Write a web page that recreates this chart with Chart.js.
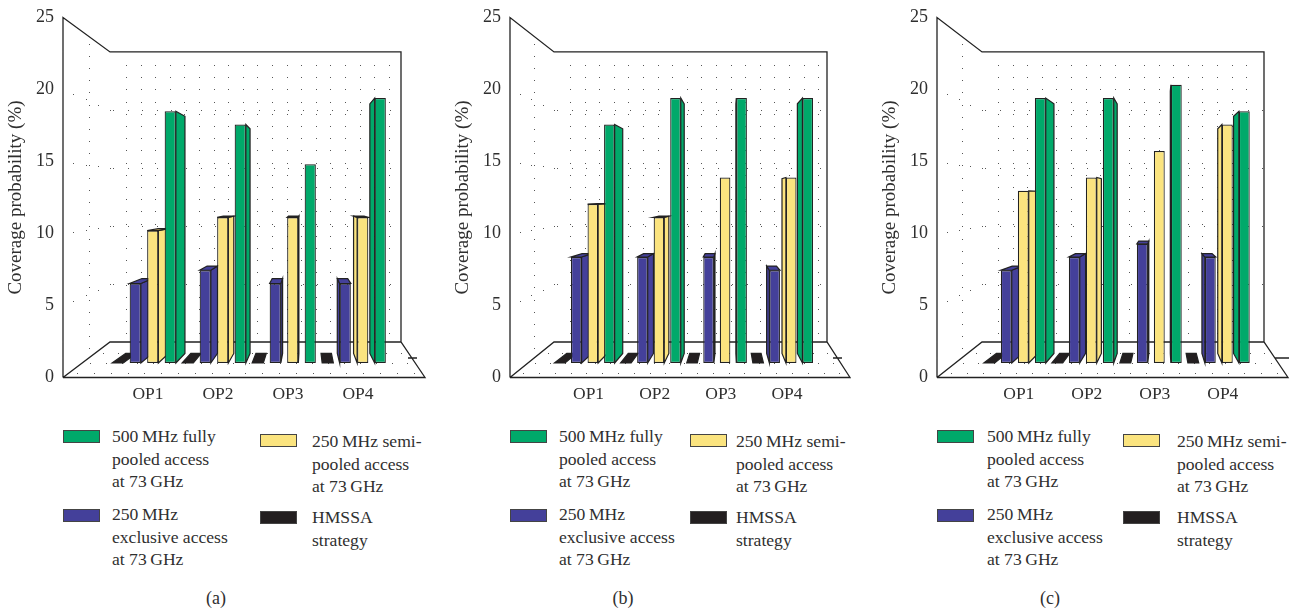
<!DOCTYPE html>
<html>
<head>
<meta charset="utf-8">
<title>Coverage probability</title>
<script src="https://cdn.jsdelivr.net/npm/chart.js@4/dist/chart.umd.min.js"></script>
<style>
  html, body { margin: 0; padding: 0; background: #fff; }
  body { position: relative; width: 1299px; height: 613px; overflow: hidden; font-family: "Liberation Serif", serif; color: #2f2f2f; }
  canvas { position: absolute; top: 0; }
  .swatch { position: absolute; box-sizing: border-box; width: 37px; height: 13px; border: 1.5px solid #444; }
  .legendText { position: absolute; font-size: 17.6px; line-height: 22.5px; white-space: pre; }
  .caption { position: absolute; top: 588px; font-size: 18px; line-height: 20px; transform: translateX(-50%); }
</style>
</head>
<body>
<script>
const categories = ["OP1", "OP2", "OP3", "OP4"];
const yTicks = [0, 5, 10, 15, 20, 25];

const hmssaA = [0, 0, 0, 0];
const exclusiveA = [6, 7, 6, 6];
const semiA = [10, 11, 11, 11];
const fullA = [19, 18, 15, 20];

const hmssaB = [0, 0, 0, 0];
const exclusiveB = [8, 8, 8, 7];
const semiB = [12, 11, 14, 14];
const fullB = [18, 20, 20, 20];

const hmssaC = [0, 0, 0, 0];
const exclusiveC = [7, 8, 9, 8];
const semiC = [13, 14, 16, 18];
const fullC = [20, 20, 21, 19];

const NAVY = "#44409a", YELLOW = "#fbe47f", GREEN = "#00a96a", BLACK = "#231f20";
const OLIVE = "#c4ab5a";
const LINE = "#222";
const TEXT = "#2f2f2f";

const seriesNames = [
  "HMSSA\nstrategy",
  "250\u2009MHz\nexclusive access\nat 73\u2009GHz",
  "250\u2009MHz semi-\npooled access\nat 73\u2009GHz",
  "500\u2009MHz fully\npooled access\nat 73\u2009GHz"
];
const seriesColors = [BLACK, NAVY, YELLOW, GREEN];

// frame of each panel, page pixels
const panels = [
  { tag: "(a)", frontL: 63, frontR: 425, backL: 110, backR: 401, catL: 109, catR: 389, vpX: 306, capX: 216,
    swatchR: 260, textL: 112, textR: 312, tick: [408, 417], data: [hmssaA, exclusiveA, semiA, fullA] },
  { tag: "(b)", frontL: 510, frontR: 850, backL: 554, backR: 827, catL: 551.5, catR: 816, vpX: 730, capX: 623,
    swatchR: 690, textL: 559, textR: 736, tick: [833, 842], data: [hmssaB, exclusiveB, semiB, fullB] },
  { tag: "(c)", frontL: 937, frontR: 1288, backL: 982, backR: 1264, catL: 980.8, catR: 1252.8, vpX: 1163, capX: 1050,
    swatchR: 1123, textL: 987, textR: 1177, tick: [1275, 1289], data: [hmssaC, exclusiveC, semiC, fullC] }
];

const VP_Y = 198;
const DEPTH_X = 0.07, DEPTH_Y = 0.058;

function poly(ctx, pts, fill) {
  ctx.beginPath();
  pts.forEach((p, i) => i ? ctx.lineTo(p[0], p[1]) : ctx.moveTo(p[0], p[1]));
  ctx.closePath();
  ctx.fillStyle = fill;
  ctx.fill();
  ctx.stroke();
}

function dot(ctx, x, y) {
  ctx.fillRect(Math.round(x), Math.round(y), 1, 1);
}

// walls, floor and the sides of the bars, all behind the bars themselves
const box3d = {
  id: "box3d",
  beforeDatasetsDraw(chart, args, opts) {
    const ctx = chart.ctx, p = opts.panel, off = opts.offset;
    const front = chart.scales.y, back = chart.scales.yBack;
    const fL = p.frontL - off, fR = p.frontR - off, bL = p.backL - off, bR = p.backR - off;
    const y0F = front.getPixelForValue(0), y25F = front.getPixelForValue(25);
    const y0B = back.getPixelForValue(0), y25B = back.getPixelForValue(25);

    ctx.save();
    // back wall dots
    ctx.fillStyle = "#555";
    for (let y = y25B + 13; y < y0B - 4; y += 12.2) {
      for (let x = bL + 16; x < bR - 8; x += 14.6) dot(ctx, x, y);
    }
    yTicks.slice(1, 5).forEach(v => {
      const yB = back.getPixelForValue(v), yF = front.getPixelForValue(v);
      for (let x = bL; x < bR; x += 14.6) dot(ctx, x + 3, yB);
      // left wall run from the tick to the back wall
      [0.22, 0.48, 0.74, 1].forEach(t => dot(ctx, fL + (bL - fL) * t, yF + (yB - yF) * t));
    });
    // left wall column
    const colX = fL + (bL - fL) * 0.55;
    for (let y = y25F + 26; y < y0B + 10; y += 12.2) dot(ctx, colX, y);
    // floor dots
    [0.12, 0.4, 0.7].forEach(t => {
      const l = fL + (bL - fL) * t, r = fR + (bR - fR) * t, yy = y0F + (y0B - y0F) * t;
      for (let i = 0; i <= 20; i++) dot(ctx, l + (r - l) * (i + 0.5) / 21, yy);
    });

    // frame
    ctx.strokeStyle = LINE;
    ctx.lineWidth = 1.3;
    ctx.beginPath();
    ctx.moveTo(fL, y0F); ctx.lineTo(fL, y25F); ctx.lineTo(bL, y25B); ctx.lineTo(bR, y25B); ctx.lineTo(bR, y0B);
    ctx.moveTo(fL, y0F); ctx.lineTo(fR, y0F); ctx.lineTo(bR, y0B); ctx.lineTo(bL, y0B); ctx.lineTo(fL, y0F);
    ctx.moveTo(p.tick[0] - off, 358); ctx.lineTo(p.tick[1] - off, 358);
    ctx.stroke();

    // side and top faces from the library's own bar elements
    const vp = p.vpX - off;
    const dx = x => (vp - x) * DEPTH_X;
    const dy = y => (VP_Y - y) * DEPTH_Y;
    const tops = [BLACK, NAVY, OLIVE, GREEN];
    chart.data.datasets.forEach((ds, di) => {
      chart.getDatasetMeta(di).data.forEach(bar => {
        const L = bar.x - bar.width / 2, R = bar.x + bar.width / 2, T = bar.y, B = bar.base;
        ctx.lineWidth = 1.2;
        ctx.strokeStyle = LINE;
        const edge = R < vp ? R : (L > vp ? L : null);
        if (edge !== null && di > 0) {
          poly(ctx, [[edge, B], [edge + dx(edge), B + dy(B)], [edge + dx(edge), T + dy(T)], [edge, T]], ds.backgroundColor);
        }
        if (dy(T) < 0) {
          poly(ctx, [[L, T], [R, T], [R + dx(R), T + dy(T)], [L + dx(L), T + dy(T)]], tops[di]);
        }
      });
    });
    ctx.restore();
  }
};

panels.forEach(p => {
  const offset = p.frontL - 58;
  const width = p.frontR - offset + 6;
  const canvas = document.createElement("canvas");
  canvas.width = width;
  canvas.height = 410;
  canvas.style.left = offset + "px";
  document.body.appendChild(canvas);

  new Chart(canvas.getContext("2d"), {
    type: "bar",
    data: {
      labels: categories,
      datasets: p.data.map((values, i) => ({
        label: seriesNames[i],
        data: values,
        yAxisID: "yBars",
        backgroundColor: seriesColors[i],
        borderColor: LINE,
        borderWidth: 1.2,
        borderSkipped: false,
        categoryPercentage: 1,
        barPercentage: 0.64
      }))
    },
    options: {
      responsive: false,
      animation: false,
      events: [],
      layout: { padding: { top: 17.5, right: p.frontR - p.catR + 6 } },
      plugins: {
        legend: { display: false },
        tooltip: { enabled: false },
        box3d: { panel: p, offset: offset }
      },
      scales: {
        x: {
          grid: { display: false, drawTicks: false },
          border: { display: false },
          afterFit(s) { s.height = 32.5; s.paddingLeft = 0; s.paddingRight = 0; },
          ticks: { color: TEXT, padding: 6, labelOffset: 4, maxRotation: 0, font: { family: "Liberation Serif", size: 17.5 } }
        },
        y: {
          min: 0,
          max: 25,
          // tick padding also goes into the vertical margins, drop it or the plot shrinks
          afterFit(s) { s.width = p.catL - offset; s.paddingTop = 0; s.paddingBottom = 0; },
          afterBuildTicks(s) { s.ticks = yTicks.map(v => ({ value: v })); },
          grid: { display: false, drawTicks: false },
          border: { display: false },
          title: { display: true, text: "Coverage probability (%)", color: TEXT, padding: 0, font: { family: "Liberation Serif", size: 19 } },
          ticks: { color: TEXT, padding: p.catL - p.frontL + 9, font: { family: "Liberation Serif", size: 18 } }
        },
        // plane of the bar fronts, base at y=363 and 13.25 px per unit
        yBars: { display: false, min: -1.094, max: 26.08 },
        // back wall plane, 11.6 px per unit
        yBack: { display: false, min: -3.06, max: 27.97 }
      }
    },
    plugins: [box3d]
  });

  // legend, real text next to a swatch
  const slots = [
    { i: 3, sx: p.frontL, sy: 430, tx: p.textL, ty: 425 },
    { i: 2, sx: p.swatchR, sy: 434, tx: p.textR, ty: 430 },
    { i: 1, sx: p.frontL, sy: 509, tx: p.textL, ty: 503 },
    { i: 0, sx: p.swatchR, sy: 511, tx: p.textR, ty: 506 }
  ];
  slots.forEach(s => {
    const sw = document.createElement("div");
    sw.className = "swatch";
    sw.style.left = s.sx + "px";
    sw.style.top = s.sy + "px";
    sw.style.background = seriesColors[s.i];
    document.body.appendChild(sw);
    const t = document.createElement("div");
    t.className = "legendText";
    t.style.left = s.tx + "px";
    t.style.top = s.ty + "px";
    t.textContent = seriesNames[s.i];
    document.body.appendChild(t);
  });
  const cap = document.createElement("div");
  cap.className = "caption";
  cap.style.left = p.capX + "px";
  cap.textContent = p.tag;
  document.body.appendChild(cap);
});
</script>
</body>
</html>
